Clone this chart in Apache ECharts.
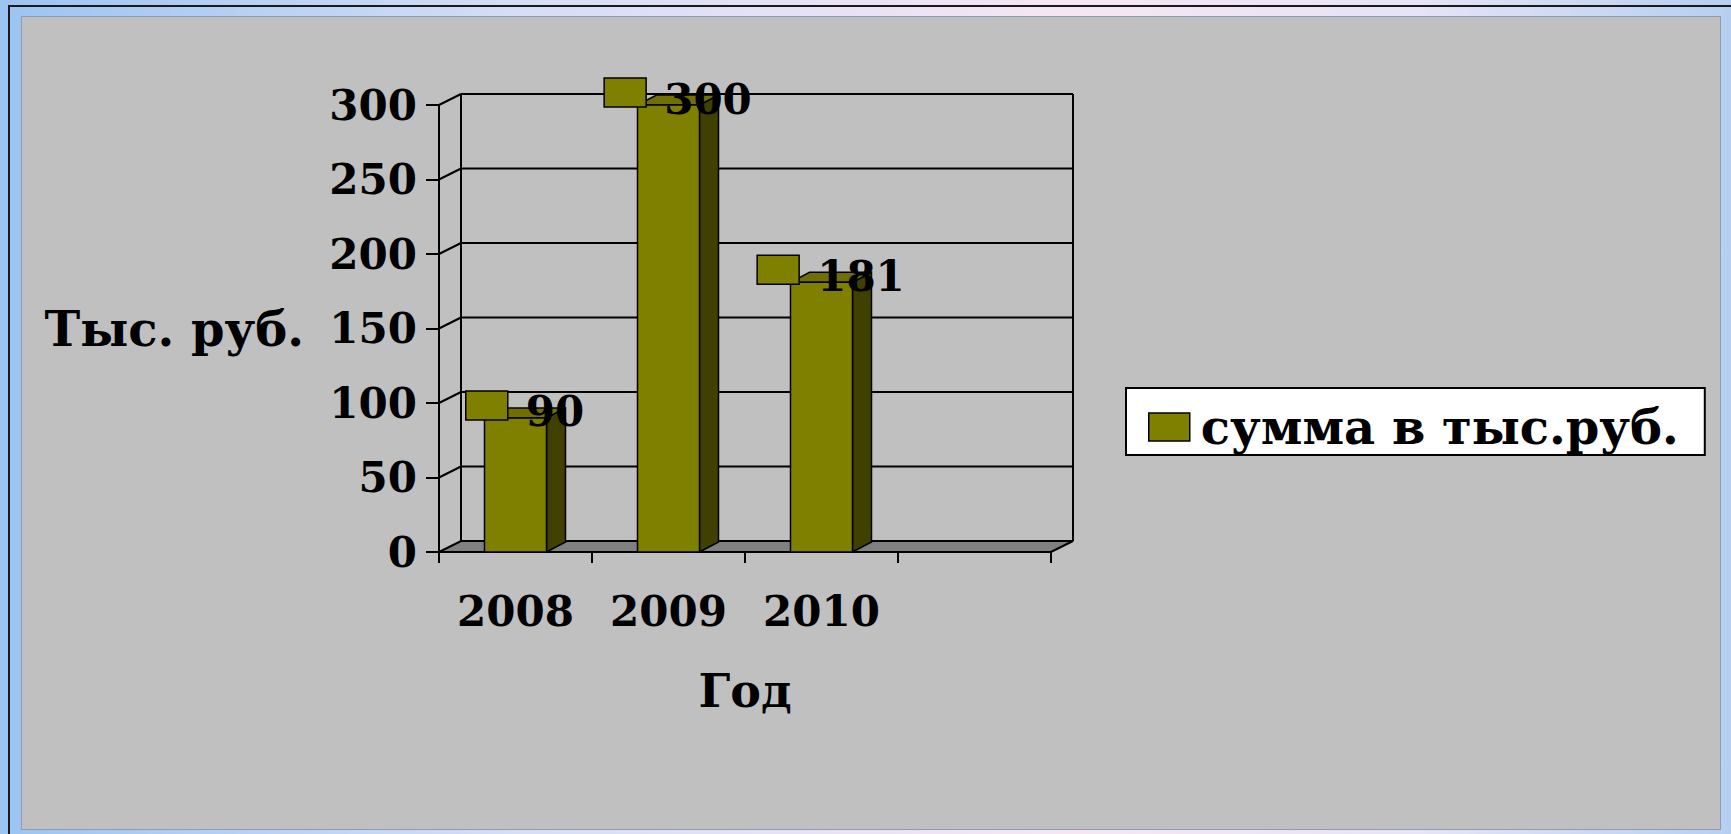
<!DOCTYPE html>
<html>
<head>
<meta charset="utf-8">
<title>Сумма по годам</title>
<script src="https://cdn.jsdelivr.net/npm/echarts@6/dist/echarts.min.js"></script>
<style>
	html, body {
		margin: 0;
		width: 1731px;
		height: 834px;
		overflow: hidden;
		background: linear-gradient(90deg, #9cc4f2 0%, #d6def6 30%, #f6e6f4 62%, #e6e4f6 82%, #b6cff1 100%);
	}
	.frame {
		position: absolute;
		left: 8px;
		top: 5px;
		width: 1731px;
		height: 834px;
		border-left: 2px solid #1a1a1a;
		border-top: 2px solid #1a1a1a;
	}
	.panel {
		position: absolute;
		left: 21px;
		top: 16px;
		width: 1698px;
		height: 812px;
		background: #c0c0c0;
		border: 1px solid #8d9bb3;
	}
	#main {
		position: absolute;
		left: 0;
		top: 0;
		width: 1731px;
		height: 834px;
	}
</style>
</head>
<body>
<div class="frame"></div>
<div class="panel"></div>
<div id="main"></div>
<script>
	// данные диаграммы
	const years = ['2008', '2009', '2010', ''];
	const sums = [90, 300, 181];
	const yTicks = [0, 50, 100, 150, 200, 250, 300];
	const seriesName = 'сумма в тыс.руб.';

	const FONT = 'DejaVu Serif';
	const OLIVE = '#808000';
	// глубина задней стенки и столбиков
	const WALL_DX = 22, WALL_DY = 11;
	const BAR_DX = 19, BAR_DY = 10;
	const BAR_W = 62;

	const chartInstance = echarts.init(document.getElementById('main'), null, { renderer: 'svg' });

	function line(x1, y1, x2, y2) {
		return {
			type: 'line',
			shape: { x1: x1, y1: y1, x2: x2, y2: y2 },
			style: { stroke: '#000', lineWidth: 2 }
		};
	}

	// задняя стенка, линии сетки и пол
	function renderWall(params, api) {
		const cs = params.coordSys;
		const v = api.value(0);
		const y = api.coord([0, v])[1];
		const x0 = cs.x, x1 = cs.x + cs.width;
		const children = [];
		if (v === 0) {
			children.push({
				type: 'polygon',
				shape: { points: [[x0, y], [x1, y], [x1 + WALL_DX, y - WALL_DY], [x0 + WALL_DX, y - WALL_DY]] },
				style: { fill: '#808080', stroke: '#000', lineWidth: 2 }
			});
		} else {
			children.push(line(x0, y, x0 + WALL_DX, y - WALL_DY));
			children.push(line(x0 + WALL_DX, y - WALL_DY, x1 + WALL_DX, y - WALL_DY));
		}
		if (params.dataIndex === yTicks.length - 1) {
			const yBase = api.coord([0, 0])[1];
			children.push(line(x0 + WALL_DX, y - WALL_DY, x0 + WALL_DX, yBase - WALL_DY));
			children.push(line(x1 + WALL_DX, y - WALL_DY, x1 + WALL_DX, yBase - WALL_DY));
		}
		return { type: 'group', children: children };
	}

	// объёмный столбик с подписью (ключ легенды + значение)
	function renderBar(params, api) {
		const v = api.value(1);
		const top = api.coord([api.value(0), v]);
		const base = api.coord([api.value(0), 0]);
		const xl = top[0] - BAR_W / 2, xr = top[0] + BAR_W / 2;
		const yt = top[1], yb = base[1];
		const edge = { stroke: '#000', lineWidth: 1.5 };

		const text = String(v);
		const textW = text.length * 0.696 * 42;
		const labelW = 42 + 18 + textW;
		const lx = top[0] + 9.5 - labelW / 2;

		return {
			type: 'group',
			children: [
				{
					type: 'polygon',
					shape: { points: [[xr, yt], [xr + BAR_DX, yt - BAR_DY], [xr + BAR_DX, yb - BAR_DY], [xr, yb]] },
					style: Object.assign({ fill: '#404000' }, edge)
				},
				{
					type: 'polygon',
					shape: { points: [[xl, yt], [xl + BAR_DX, yt - BAR_DY], [xr + BAR_DX, yt - BAR_DY], [xr, yt]] },
					style: Object.assign({ fill: '#707000' }, edge)
				},
				{
					type: 'rect',
					shape: { x: xl, y: yt, width: BAR_W, height: yb - yt },
					style: Object.assign({ fill: OLIVE }, edge)
				},
				{
					type: 'rect',
					shape: { x: lx, y: yt - 27, width: 42, height: 29 },
					style: Object.assign({ fill: OLIVE }, edge)
				},
				{
					type: 'text',
					x: lx + 60,
					y: yt - 6,
					style: {
						text: text,
						fill: '#000',
						font: 'bold 42px "' + FONT + '"',
						align: 'left',
						verticalAlign: 'middle'
					}
				}
			]
		};
	}

	const option = {
		animation: false,
		grid: {
			left: 439,
			top: 105,
			width: 612,
			height: 447
		},
		legend: {
			left: 1126,
			top: 388,
			backgroundColor: '#fff',
			borderColor: '#000',
			borderWidth: 2,
			borderRadius: 0,
			padding: [15, 26, 4, 22],
			itemWidth: 41,
			itemHeight: 28,
			textStyle: {
				fontFamily: FONT,
				fontWeight: 'bold',
				fontSize: 48,
				color: '#000',
				padding: [0, 0, 0, 6]
			},
			data: [{
				name: seriesName,
				icon: 'rect',
				itemStyle: { color: OLIVE, borderColor: '#000', borderWidth: 1.5 }
			}]
		},
		xAxis: {
			type: 'category',
			data: years,
			name: 'Год',
			nameLocation: 'middle',
			nameGap: 116,
			nameTextStyle: {
				fontFamily: FONT,
				fontWeight: 'bold',
				fontSize: 46,
				color: '#000'
			},
			axisLine: { show: true, lineStyle: { color: '#000', width: 2 } },
			axisTick: { show: true, length: 11, lineStyle: { color: '#000', width: 2 } },
			axisLabel: {
				margin: 38,
				fontFamily: FONT,
				fontWeight: 'bold',
				fontSize: 42,
				color: '#000'
			},
			splitLine: { show: false }
		},
		yAxis: {
			type: 'value',
			min: 0,
			max: 300,
			interval: 50,
			name: 'Тыс. руб.',
			nameLocation: 'middle',
			nameRotate: 0,
			nameGap: 135,
			nameTextStyle: {
				fontFamily: FONT,
				fontWeight: 'bold',
				fontSize: 48,
				color: '#000',
				padding: [18, 0, 0, 0]
			},
			axisLine: { show: true, lineStyle: { color: '#000', width: 2 } },
			axisTick: { show: true, length: 13, lineStyle: { color: '#000', width: 2 } },
			axisLabel: {
				margin: 22,
				padding: [14, 0, 0, 0],
				fontFamily: FONT,
				fontWeight: 'bold',
				fontSize: 42,
				color: '#000'
			},
			splitLine: { show: false }
		},
		series: [
			{
				name: 'wall',
				type: 'custom',
				z: 1,
				silent: true,
				renderItem: renderWall,
				encode: { y: 0 },
				data: yTicks.map(v => [v])
			},
			{
				name: seriesName,
				type: 'custom',
				z: 2,
				itemStyle: { color: OLIVE },
				renderItem: renderBar,
				encode: { x: 0, y: 1 },
				data: sums.map((v, i) => [i, v])
			}
		]
	};
	chartInstance.setOption(option);
</script>
</body>
</html>
